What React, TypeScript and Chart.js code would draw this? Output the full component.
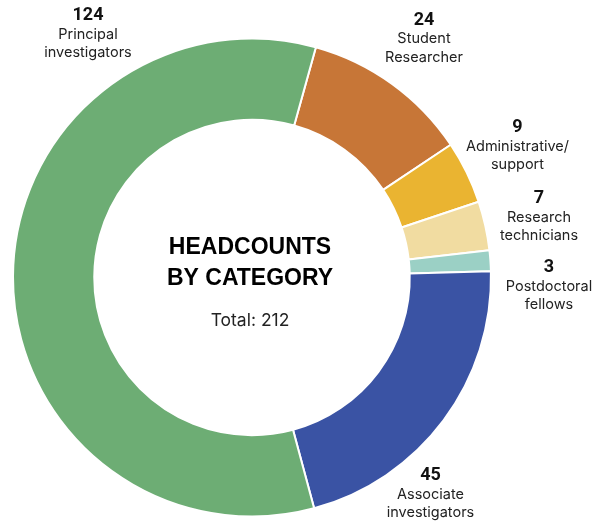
import React, { useEffect, useRef } from "react";
import { Chart, registerables } from "chart.js";

Chart.register(...registerables);

const categories = [
  "Student Researcher",
  "Administrative/ support",
  "Research technicians",
  "Postdoctoral fellows",
  "Associate investigators",
  "Principal investigators",
];
const labelLines = [
  ["Student", "Researcher"],
  ["Administrative/", "support"],
  ["Research", "technicians"],
  ["Postdoctoral", "fellows"],
  ["Associate", "investigators"],
  ["Principal", "investigators"],
];
const headcounts = [24, 9, 7, 3, 45, 124];
const colors = ["#C77637", "#EAB431", "#F1DCA1", "#9BD0C5", "#3A53A4", "#6DAD74"];
// label anchor (center x, baseline of the number) in canvas px
const labelAnchors = [
  [424, 24.5],
  [517.5, 132],
  [539, 203],
  [549, 272],
  [430.5, 480],
  [88, 20],
];
const titleLines = ["HEADCOUNTS", "BY CATEGORY"];
const totalText = "Total: " + headcounts.reduce((a, b) => a + b, 0);

const labelPlugin = {
  id: "labels",
  afterDraw(chart: any) {
    const ctx = chart.ctx;
    ctx.save();
    ctx.textAlign = "center";
    ctx.textBaseline = "alphabetic";
    headcounts.forEach((v, i) => {
      const [x, y] = labelAnchors[i];
      ctx.font = "bold 18px Roboto";
      ctx.fillStyle = "#111";
      ctx.fillText(String(v), x, y);
      ctx.font = "14.5px Inter";
      ctx.fillStyle = "#222";
      labelLines[i].forEach((ln, j) => ctx.fillText(ln, x, y + 18.7 * (j + 1)));
    });
    const meta = chart.getDatasetMeta(0);
    const arc = meta.data[0];
    const cx = arc.x - 2;
    const cy = arc.y;
    ctx.font = "bold 23px 'Liberation Sans'";
    ctx.fillStyle = "#000";
    ctx.fillText(titleLines[0], cx, cy - 23.2);
    ctx.fillText(titleLines[1], cx, cy + 7.5);
    ctx.font = "17.5px Inter";
    ctx.fillStyle = "#222";
    ctx.fillText(totalText, cx, cy + 48);
    ctx.restore();
  },
};

export default function App() {
  const ref = useRef<HTMLCanvasElement>(null);
  useEffect(() => {
    const chart = new Chart(ref.current!, {
      type: "doughnut",
      data: {
        labels: categories,
        datasets: [
          {
            data: headcounts,
            backgroundColor: colors,
            borderColor: "#fff",
            borderWidth: 2,
          },
        ],
      },
      options: {
        responsive: false,
        animation: false,
        rotation: 15.5,
        cutout: "66%",
        layout: { padding: { left: 12, right: 112, top: 37.5, bottom: 5.5 } },
        plugins: { legend: { display: false }, tooltip: { enabled: false } },
      },
      plugins: [labelPlugin],
    });
    return () => chart.destroy();
  }, []);
  return (
    <div style={{ position: "fixed", left: 0, top: 0, width: 604, height: 523, background: "#fff" }}>
      <canvas ref={ref} width={604} height={523} />
    </div>
  );
}
